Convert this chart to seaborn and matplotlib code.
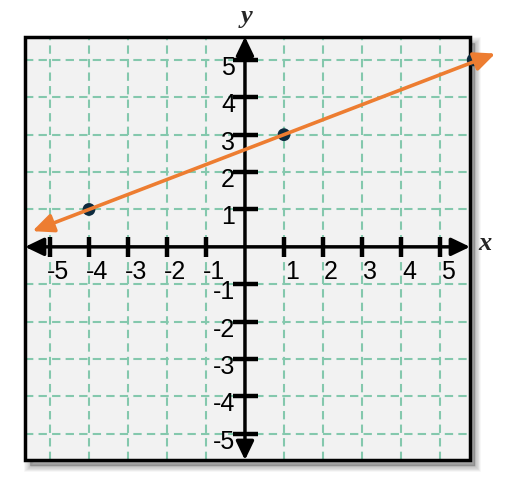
import matplotlib
matplotlib.use('Agg')
import matplotlib.pyplot as plt
import seaborn as sns
from matplotlib.patches import Rectangle
from matplotlib.transforms import offset_copy

# ---- data ----
x_ticks = [-5, -4, -3, -2, -1, 1, 2, 3, 4, 5]
y_ticks = [-5, -4, -3, -2, -1, 1, 2, 3, 4, 5]
point_x = [-4, 1, 5.85]
point_y = [1, 3, 5]
line_x = [-5.45, 6.42]
line_y = [0.42, 5.17]
x_range = [-5.64, 5.77]
y_range = [-5.70, 5.62]
x_name = 'x'
y_name = 'y'

sns.set_theme(style='white')
plt.rcParams['font.family'] = ['Liberation Sans', 'DejaVu Sans']

W, H = 513, 479
fig = plt.figure(figsize=(W / 100, H / 100), dpi=100)
fig.patch.set_facecolor('white')
ax = fig.add_axes([25 / W, 19 / H, 445 / W, 423.3 / H])
ax.set_facecolor('#f2f2f2')
ax.set_xlim(x_range)
ax.set_ylim(y_range)
ax.set_xticks(x_ticks)
ax.set_yticks(y_ticks)
ax.set_axisbelow(True)
ax.grid(True, color='#84c8ad', linestyle=(0, (4, 2.5)), linewidth=1.5)

# axes through the origin
ax.spines['left'].set_position(('data', 0))
ax.spines['bottom'].set_position(('data', 0))
for s in ax.spines.values():
    s.set_visible(False)
ax.tick_params(axis='x', direction='inout', length=15, width=3.2, color='black',
               labelbottom=False, bottom=True, top=False)
ax.tick_params(axis='y', direction='inout', length=18, width=3.2, color='black',
               labelleft=False, left=True, right=False)

# drop shadow
for k in range(8):
    sh = Rectangle((0, 0), 1, 1,
                   transform=offset_copy(ax.transAxes, fig=fig, x=5, y=-6, units='dots'),
                   facecolor='black', edgecolor='black', linewidth=k * 1.2,
                   alpha=0.035, zorder=-1)
    fig.add_artist(sh)

# frame
ax.add_patch(Rectangle((0, 0), 1, 1, transform=ax.transAxes, fill=False,
                       edgecolor='black', linewidth=2.5, zorder=5, clip_on=False))

# axis arrows
arrow_style = '<|-|>,head_length=0.75,head_width=0.36'
ax.annotate('', xy=(x_range[1], 0), xytext=(x_range[0], 0),
            arrowprops=dict(arrowstyle=arrow_style, color='black', lw=2.5,
                            shrinkA=0, shrinkB=0, mutation_scale=15),
            annotation_clip=False, zorder=4)
ax.annotate('', xy=(0, y_range[1]), xytext=(0, y_range[0]),
            arrowprops=dict(arrowstyle=arrow_style, color='black', lw=2.5,
                            shrinkA=0, shrinkB=0, mutation_scale=15),
            annotation_clip=False, zorder=4)

# tick labels
xt = offset_copy(ax.transData, fig=fig, x=8, y=-25, units='dots')
for v in x_ticks:
    ax.text(v, 0, str(v), transform=xt, ha='center', va='center', fontsize=18,
            color='black', zorder=4)
yt = offset_copy(ax.transData, fig=fig, x=-10, y=-8, units='dots')
for v in y_ticks:
    ax.text(0, v, str(v), transform=yt, ha='right', va='center', fontsize=18,
            color='black', zorder=4)

# points
sns.scatterplot(x=point_x, y=point_y, ax=ax, color='#0d2b3e', s=85,
                edgecolor='none', zorder=6, clip_on=False, legend=False)

# the line with arrows
ax.annotate('', xy=(line_x[1], line_y[1]), xytext=(line_x[0], line_y[0]),
            arrowprops=dict(arrowstyle='<|-|>,head_length=0.85,head_width=0.38',
                            color='#ed7d31', lw=2.6, shrinkA=0, shrinkB=0,
                            mutation_scale=15),
            annotation_clip=False, zorder=7)

# axis names
ax.text(0.05, 6.15, y_name, family=['Liberation Serif', 'DejaVu Serif'],
        style='italic', weight='bold', fontsize=19, ha='center', va='center',
        clip_on=False)
ax.text(6.15, 0.08, x_name, family=['Liberation Serif', 'DejaVu Serif'],
        style='italic', weight='bold', fontsize=19, ha='center', va='center',
        clip_on=False)

fig.savefig('out.png', dpi=100)
